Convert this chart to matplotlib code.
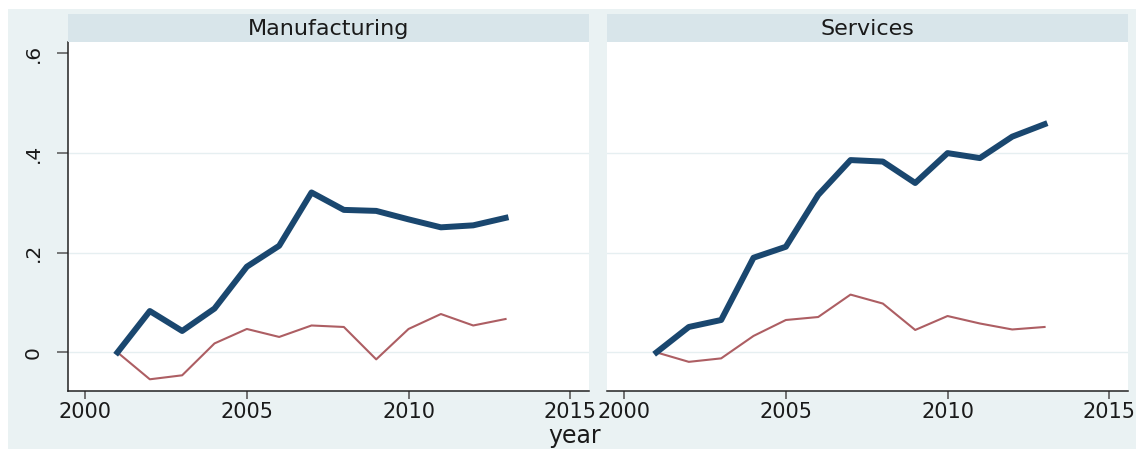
import matplotlib
matplotlib.use("Agg")
import matplotlib.pyplot as plt
from matplotlib.patches import Rectangle

# yearly values, one thick and one thin series per sector
years = [2001, 2002, 2003, 2004, 2005, 2006, 2007, 2008, 2009, 2010, 2011, 2012, 2013]
manuf_thick = [0, .083, .043, .088, .172, .214, .321, .286, .284, .267, .251, .255, .270]
manuf_thin = [0, -.054, -.046, .018, .047, .031, .054, .051, -.014, .047, .077, .054, .067]
serv_thick = [0, .051, .065, .190, .212, .316, .386, .383, .340, .400, .390, .433, .458]
serv_thin = [0, -.019, -.012, .033, .065, .071, .116, .098, .045, .073, .058, .046, .051]

panels = ["Manufacturing", "Services"]
xticks = [2000, 2005, 2010, 2015]
yticks = [0, .2, .4, .6]
ytick_labels = ["0", ".2", ".4", ".6"]

W, H = 1136, 449
bg = "#eaf2f3"
strip = "#d8e5ea"
navy = "#1a476f"
maroon = "#ad5e63"
txt = "#1a1a1a"

fig = plt.figure(figsize=(W / 100, H / 100), dpi=100)
fig.patch.set_facecolor("white")

def px(x0, y0, x1, y1):
    # pixel box (top-left origin) -> figure fraction rect
    return [x0 / W, 1 - y1 / H, (x1 - x0) / W, (y1 - y0) / H]

# graph region background, kept behind the axes
fig.patches.append(Rectangle((8 / W, 0), 1, 1 - 9 / H, transform=fig.transFigure,
                             facecolor=bg, edgecolor="none", zorder=-10))

boxes = [(68, 589), (607, 1128)]
series = [(manuf_thick, manuf_thin), (serv_thick, serv_thin)]

for i, ((x0, x1), name, (thick, thin)) in enumerate(zip(boxes, panels, series)):
    ax = fig.add_axes(px(x0, 42, x1, 390.5))
    ax.set_facecolor("white")
    ax.set_xlim(1999.47, 2015.58)
    ax.set_ylim(-0.0765, 0.623)
    for v in yticks[:-1]:
        ax.axhline(v, color="#e6eff1", lw=1.0, zorder=1)
    ax.plot(years, thin, color=maroon, lw=1.5, zorder=3)
    ax.plot(years, thick, color=navy, lw=4.3, zorder=4)

    for s in ["top", "right"]:
        ax.spines[s].set_visible(False)
    ax.spines["bottom"].set_color("#222222")
    ax.spines["bottom"].set_linewidth(1.1)
    ax.set_xticks(xticks)
    ax.set_xticklabels([str(t) for t in xticks], fontsize=15, color=txt)
    ax.tick_params(axis="x", length=6, width=1.3, color="#666666", pad=2)
    ax.set_yticks(yticks)
    if i == 0:
        ax.spines["left"].set_color("#222222")
        ax.spines["left"].set_linewidth(1.1)
        ax.set_yticklabels(ytick_labels, fontsize=14.5, color=txt, rotation=90, va="center")
        ax.tick_params(axis="y", length=8, width=1.1, color="#555555", pad=10)
    else:
        ax.spines["left"].set_visible(False)
        ax.tick_params(axis="y", length=0, labelleft=False)

    # facet header
    sx = fig.add_axes(px(x0, 14, x1, 42))
    sx.set_facecolor(strip)
    sx.set_xticks([])
    sx.set_yticks([])
    for s in sx.spines.values():
        s.set_visible(False)
    sx.text(0.5, 0.45, name, ha="center", va="center", fontsize=16, color=txt,
            transform=sx.transAxes)

fig.text(575 / W, 1 - 448 / H, "year", ha="center", va="bottom", fontsize=17, color=txt)

fig.savefig("out.png", dpi=100)
